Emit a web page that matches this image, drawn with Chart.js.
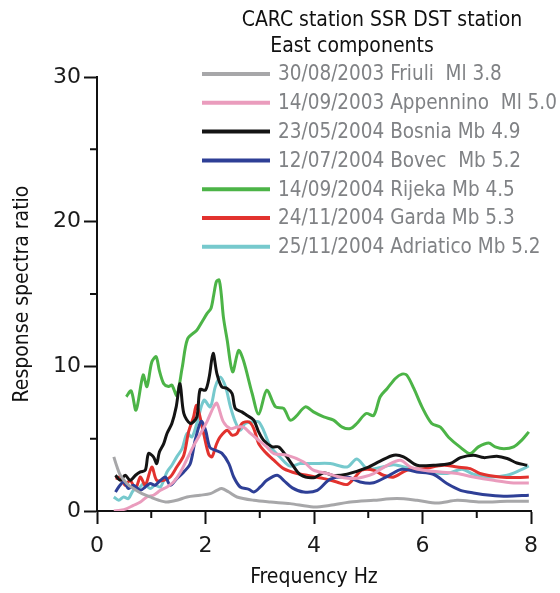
<!DOCTYPE html>
<html>
<head>
<meta charset="utf-8">
<script src="https://cdn.jsdelivr.net/npm/chart.js@4.4.1/dist/chart.umd.min.js"></script>
<style>
  html, body { margin: 0; padding: 0; background: #fff; }
  #wrap { width: 560px; height: 593px; }
</style>
</head>
<body>
<div id="wrap"><canvas id="spectraChart" width="560" height="593"></canvas></div>
<script>
// Titles and event labels
const legendTitle = ['CARC station SSR DST station', 'East components'];
const eventLabels = [
    '30/08/2003 Friuli  Ml 3.8',
    '14/09/2003 Appennino  Ml 5.0',
    '23/05/2004 Bosnia Mb 4.9',
    '12/07/2004 Bovec  Mb 5.2',
    '14/09/2004 Rijeka Mb 4.5',
    '24/11/2004 Garda Mb 5.3',
    '25/11/2004 Adriatico Mb 5.2'
];
const xTicks = [0, 2, 4, 6, 8];
const yTicks = [0, 10, 20, 30];
const xMinorTicks = [1, 3, 5, 7];
const yMinorTicks = [5, 15, 25];

// (Hz / ratio)
const friuliHz = [0.31, 0.37, 0.43, 0.55, 0.67, 0.83, 0.98, 1.14, 1.29, 1.47, 1.66, 1.9, 2.09, 2.21, 2.3, 2.43, 2.58, 2.89, 3.2, 3.56, 3.99, 4.3, 4.67, 5.1, 5.53, 5.9, 6.27, 6.64, 7.07, 7.56, 7.96];
const friuliRatio = [3.74, 3.04, 2.47, 1.9, 1.55, 1.2, 0.97, 0.74, 0.62, 0.74, 0.97, 1.09, 1.2, 1.43, 1.55, 1.31, 0.97, 0.74, 0.62, 0.51, 0.28, 0.39, 0.62, 0.74, 0.86, 0.74, 0.55, 0.74, 0.62, 0.67, 0.67];

const appenninoHz = [0.31, 0.43, 0.55, 0.67, 0.8, 0.92, 1.04, 1.17, 1.29, 1.41, 1.54, 1.66, 1.78, 1.9, 2.03, 2.15, 2.21, 2.33, 2.46, 2.58, 2.7, 2.83, 2.98, 3.13, 3.26, 3.5, 3.81, 3.99, 4.24, 4.48, 4.73, 4.91, 5.1, 5.35, 5.59, 5.78, 6.02, 6.33, 6.64, 6.94, 7.31, 7.68, 7.96];
const appenninoRatio = [0.0, 0.05, 0.17, 0.39, 0.62, 0.97, 1.09, 1.43, 1.66, 2.0, 2.7, 3.6, 4.5, 5.3, 6.2, 7.2, 7.45, 6.16, 5.7, 5.8, 5.8, 5.36, 4.89, 4.43, 3.97, 3.86, 3.39, 2.82, 2.59, 2.35, 2.24, 2.35, 2.59, 3.16, 3.51, 3.04, 2.82, 2.7, 2.59, 2.35, 2.12, 1.94, 1.94];

const bosniaHz = [0.34, 0.43, 0.52, 0.61, 0.71, 0.8, 0.89, 0.95, 1.04, 1.1, 1.15, 1.23, 1.29, 1.38, 1.46, 1.53, 1.6, 1.72, 1.84, 1.9, 2.0, 2.07, 2.14, 2.21, 2.3, 2.4, 2.49, 2.55, 2.67, 2.76, 2.89, 2.98, 3.07, 3.23, 3.35, 3.5, 3.6, 3.75, 3.99, 4.18, 4.36, 4.61, 4.98, 5.22, 5.47, 5.65, 5.9, 6.2, 6.51, 6.7, 6.94, 7.13, 7.37, 7.56, 7.74, 7.93];
const bosniaRatio = [2.47, 2.12, 2.47, 2.12, 2.47, 2.7, 2.82, 3.97, 3.74, 3.28, 4.08, 4.66, 5.36, 6.05, 7.2, 8.8, 6.74, 6.05, 6.5, 8.4, 8.35, 9.3, 10.9, 9.5, 8.58, 8.47, 8.12, 7.09, 6.85, 6.62, 6.28, 5.47, 4.89, 4.43, 4.43, 3.74, 3.2, 2.5, 2.3, 2.65, 2.45, 2.55, 3.0, 3.45, 3.85, 3.74, 3.16, 3.16, 3.28, 3.69, 3.86, 3.69, 3.79, 3.63, 3.32, 3.16];

const bovecHz = [0.34, 0.4, 0.49, 0.58, 0.67, 0.8, 0.89, 0.98, 1.07, 1.17, 1.26, 1.35, 1.47, 1.6, 1.72, 1.81, 1.92, 2.0, 2.08, 2.18, 2.3, 2.43, 2.52, 2.64, 2.8, 2.89, 3.01, 3.13, 3.32, 3.44, 3.6, 3.81, 4.06, 4.3, 4.61, 4.85, 5.1, 5.38, 5.62, 5.9, 6.2, 6.45, 6.7, 6.94, 7.25, 7.56, 7.96];
const bovecRatio = [1.31, 1.66, 2.01, 1.55, 1.78, 1.43, 1.66, 1.9, 1.78, 2.12, 2.35, 1.78, 2.24, 2.7, 3.28, 4.9, 6.2, 5.6, 4.4, 4.2, 4.0, 3.28, 2.35, 1.66, 1.5, 1.31, 1.66, 2.12, 2.47, 2.12, 1.6, 1.31, 1.43, 2.2, 2.35, 2.01, 1.95, 2.45, 2.88, 2.7, 2.54, 1.9, 1.43, 1.25, 1.09, 1.02, 1.09];

const rijekaHz = [0.54, 0.63, 0.72, 0.85, 0.92, 1.01, 1.09, 1.15, 1.23, 1.32, 1.38, 1.47, 1.57, 1.67, 1.84, 1.94, 2.03, 2.1, 2.15, 2.2, 2.25, 2.29, 2.33, 2.4, 2.5, 2.61, 2.7, 2.86, 2.98, 3.13, 3.29, 3.44, 3.56, 3.66, 3.84, 3.99, 4.18, 4.36, 4.52, 4.67, 4.79, 4.96, 5.1, 5.22, 5.35, 5.5, 5.62, 5.71, 5.84, 5.99, 6.17, 6.33, 6.48, 6.7, 6.88, 7.03, 7.22, 7.34, 7.5, 7.68, 7.83, 7.96];
const rijekaRatio = [7.9, 8.3, 6.97, 9.4, 8.6, 10.3, 10.66, 9.7, 8.8, 8.6, 8.7, 8.0, 9.9, 11.9, 12.5, 13.1, 13.66, 14.0, 14.9, 15.85, 15.97, 15.0, 13.4, 11.8, 9.62, 11.1, 10.4, 8.12, 6.7, 8.35, 7.2, 7.09, 6.28, 6.5, 7.2, 6.85, 6.5, 6.28, 5.8, 5.7, 6.05, 6.74, 6.6, 7.9, 8.47, 9.16, 9.46, 9.39, 8.47, 7.2, 6.05, 5.8, 5.1, 4.4, 3.97, 4.43, 4.7, 4.43, 4.3, 4.43, 4.9, 5.47];

const gardaHz = [0.34, 0.43, 0.52, 0.61, 0.71, 0.8, 0.89, 1.01, 1.1, 1.23, 1.35, 1.47, 1.6, 1.69, 1.78, 1.83, 1.88, 1.97, 2.06, 2.12, 2.2, 2.27, 2.4, 2.49, 2.58, 2.67, 2.8, 2.89, 2.98, 3.1, 3.26, 3.44, 3.69, 3.87, 4.18, 4.42, 4.61, 4.76, 4.88, 5.1, 5.28, 5.47, 5.71, 6.02, 6.39, 6.64, 6.88, 7.06, 7.43, 7.74, 7.96];
const gardaRatio = [2.24, 2.35, 1.78, 2.12, 1.55, 2.35, 1.78, 3.04, 2.12, 2.12, 2.35, 3.04, 3.86, 5.5, 6.5, 7.3, 6.8, 5.3, 3.9, 3.75, 4.6, 5.12, 5.58, 5.24, 5.36, 6.05, 6.16, 5.7, 4.66, 4.08, 3.51, 2.93, 2.59, 2.47, 2.24, 2.01, 1.83, 2.35, 2.82, 2.82, 2.47, 2.35, 2.82, 2.93, 3.16, 3.04, 2.93, 2.59, 2.35, 2.31, 2.35];

const adriaticoHz = [0.31, 0.4, 0.49, 0.58, 0.67, 0.77, 0.86, 0.98, 1.07, 1.17, 1.29, 1.38, 1.47, 1.57, 1.66, 1.75, 1.84, 1.97, 2.09, 2.18, 2.27, 2.37, 2.46, 2.55, 2.64, 2.73, 2.89, 2.98, 3.07, 3.2, 3.38, 3.56, 3.75, 3.99, 4.3, 4.61, 4.79, 4.98, 5.22, 5.47, 5.78, 6.08, 6.45, 6.73, 6.94, 7.25, 7.56, 7.8, 7.96];
const adriaticoRatio = [0.97, 0.74, 0.97, 0.86, 1.43, 1.55, 1.9, 1.55, 1.78, 1.66, 2.7, 3.16, 3.74, 4.32, 5.36, 5.12, 6.05, 7.66, 7.2, 8.58, 9.27, 8.58, 7.2, 6.16, 5.58, 6.05, 6.16, 6.16, 5.58, 4.43, 3.7, 3.1, 3.28, 3.28, 3.28, 3.04, 3.6, 2.93, 3.0, 3.2, 2.93, 2.7, 2.59, 2.89, 2.54, 2.35, 2.47, 2.82, 3.11];

const seriesHz = [friuliHz, appenninoHz, bosniaHz, bovecHz, rijekaHz, gardaHz, adriaticoHz];
const seriesRatio = [friuliRatio, appenninoRatio, bosniaRatio, bovecRatio, rijekaRatio, gardaRatio, adriaticoRatio];
const seriesColors = ['#a7a7a9', '#ea9cbd', '#141414', '#2e3f96', '#4cb447', '#e2322e', '#76c9cd'];

const FONT = "'Liberation Sans Narrow', 'DejaVu Sans Condensed', sans-serif";

// legend + title box drawn inside the plot, plus the short minor ticks
const overlayPlugin = {
    id: 'overlay',
    afterDraw(chart) {
        const ctx = chart.ctx;
        const area = chart.chartArea;
        const xs = chart.scales.x;
        const ys = chart.scales.y;
        ctx.save();

        // minor ticks
        ctx.strokeStyle = '#111';
        ctx.lineWidth = 2;
        ctx.beginPath();
        xMinorTicks.forEach(v => {
            const px = xs.getPixelForValue(v);
            ctx.moveTo(px, area.bottom);
            ctx.lineTo(px, area.bottom + 7);
        });
        yMinorTicks.forEach(v => {
            const py = ys.getPixelForValue(v);
            ctx.moveTo(area.left, py);
            ctx.lineTo(area.left - 7, py);
        });
        ctx.stroke();

        // title
        ctx.font = '21px ' + FONT;
        ctx.fillStyle = '#111';
        ctx.textAlign = 'center';
        ctx.textBaseline = 'middle';
        ctx.fillText(legendTitle[0], 382, 21);
        ctx.fillText(legendTitle[1], 352, 47);

        // legend rows
        ctx.textAlign = 'left';
        ctx.font = '20.5px ' + FONT;
        chart.data.datasets.forEach((ds, i) => {
            const y = 74 + i * 28.8;
            ctx.strokeStyle = ds.borderColor;
            ctx.lineWidth = 4;
            ctx.beginPath();
            ctx.moveTo(202, y);
            ctx.lineTo(270, y);
            ctx.stroke();
            ctx.fillStyle = '#808285';
            ctx.fillText(ds.label, 278, y + 1);
        });
        ctx.restore();
    }
};

const ctx = document.getElementById('spectraChart').getContext('2d');
new Chart(ctx, {
    type: 'line',
    data: {
        datasets: eventLabels.map((label, i) => ({
            label: label,
            data: seriesHz[i].map((hz, j) => ({ x: hz, y: seriesRatio[i][j] })),
            borderColor: seriesColors[i],
            backgroundColor: seriesColors[i],
            borderWidth: 3,
            pointRadius: 0,
            tension: 0.3,
            fill: false
        }))
    },
    options: {
        responsive: false,
        animation: false,
        layout: { padding: { top: 77, right: 29, left: 0, bottom: 0 } },
        plugins: {
            legend: { display: false },
            tooltip: { enabled: false }
        },
        scales: {
            x: {
                type: 'linear',
                min: 0,
                max: 8,
                afterBuildTicks: axis => { axis.ticks = xTicks.map(v => ({ value: v })); },
                afterFit: axis => { axis.height = 82; },
                ticks: {
                    color: '#1a1a1a',
                    padding: 9,
                    font: { family: "'DejaVu Sans', sans-serif", size: 22 }
                },
                grid: {
                    drawOnChartArea: false,
                    tickLength: 13,
                    tickWidth: 2,
                    tickColor: '#111'
                },
                border: { color: '#111', width: 2 },
                title: {
                    display: true,
                    text: 'Frequency Hz',
                    color: '#111',
                    font: { family: FONT, size: 21 },
                    padding: { top: 0, bottom: 3 }
                }
            },
            y: {
                min: 0,
                max: 30,
                afterBuildTicks: axis => { axis.ticks = yTicks.map(v => ({ value: v })); },
                afterFit: axis => { axis.width = 97; },
                ticks: {
                    color: '#1a1a1a',
                    padding: 3,
                    font: { family: "'DejaVu Sans', sans-serif", size: 22 }
                },
                grid: {
                    drawOnChartArea: false,
                    tickLength: 13,
                    tickWidth: 2,
                    tickColor: '#111'
                },
                border: { color: '#111', width: 2 },
                title: {
                    display: true,
                    text: 'Response spectra ratio',
                    color: '#111',
                    font: { family: FONT, size: 21 },
                    padding: { top: 10, bottom: 0 }
                }
            }
        }
    },
    plugins: [overlayPlugin]
});
</script>
</body>
</html>
